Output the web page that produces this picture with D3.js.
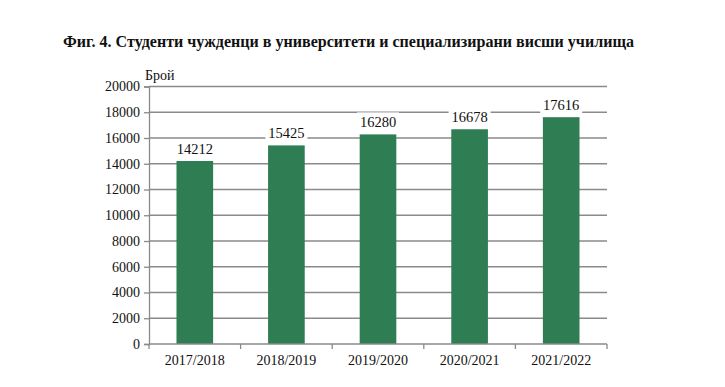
<!DOCTYPE html>
<html><head><meta charset="utf-8">
<script src="https://cdn.jsdelivr.net/npm/d3@7"></script>
<style>body{margin:0;background:#fff}svg{display:block}</style>
</head><body>
<script>
const categories = ["2017/2018","2018/2019","2019/2020","2020/2021","2021/2022"];
const values = [14212, 15425, 16280, 16678, 17616];
const yTicks = [0,2000,4000,6000,8000,10000,12000,14000,16000,18000,20000];
const title = "Фиг. 4. Студенти чужденци в университети и специализирани висши училища";
const yLabel = "Брой";

const W = 725, H = 387;
const m = {left:149, right:118, top:86.5, bottom:43};
const svg = d3.select("body").append("svg").attr("width",W).attr("height",H);
const font = "Liberation Serif";

const x = d3.scaleBand().domain(categories).range([m.left, W-m.right]).paddingInner(0.6).paddingOuter(0.3);
const y = d3.scaleLinear().domain([0,20000]).range([H-m.bottom, m.top]);

// title
svg.append("text").attr("x",63).attr("y",47).style("font-family",font).style("font-weight","bold")
  .style("font-size","17.5px").attr("textLength",571).attr("lengthAdjust","spacingAndGlyphs")
  .attr("fill","#111").text(title);

// gridlines
svg.append("g").selectAll("line").data(yTicks.filter(d=>d>0)).join("line")
  .attr("x1",m.left).attr("x2",W-m.right).attr("y1",d=>y(d)).attr("y2",d=>y(d))
  .attr("stroke","#8a8a8a").attr("stroke-width",1.3);

// bars
svg.append("g").selectAll("rect").data(values).join("rect")
  .attr("x",(d,i)=>x(categories[i])).attr("width",x.bandwidth())
  .attr("y",d=>y(d)).attr("height",d=>y(0)-y(d)).attr("fill","#2e7d53");

// y axis
const ya = svg.append("g").attr("transform",`translate(${m.left},0)`)
  .call(d3.axisLeft(y).tickValues(yTicks).tickSize(5).tickPadding(4).tickFormat(d3.format("d")));
ya.select(".domain").attr("stroke","#8a8a8a").attr("stroke-width",1.3);
ya.selectAll(".tick line").attr("stroke","#8a8a8a").attr("stroke-width",1.3);
ya.selectAll("text").style("font-family",font).style("font-size","14px").attr("fill","#111");

// x axis
const xa = svg.append("g").attr("transform",`translate(0,${y(0)})`);
xa.append("line").attr("x1",m.left).attr("x2",W-m.right).attr("stroke","#8a8a8a").attr("stroke-width",1.3);
const edges = categories.map(c=>x(c)-x.step()*0.3).concat([W-m.right]);
xa.selectAll("line.t").data(edges).join("line").attr("class","t")
  .attr("x1",d=>d).attr("x2",d=>d).attr("y1",0).attr("y2",5).attr("stroke","#8a8a8a").attr("stroke-width",1.3);
xa.selectAll("text").data(categories).join("text")
  .attr("x",d=>x(d)+x.bandwidth()/2).attr("y",21).attr("text-anchor","middle")
  .style("font-family",font).style("font-size","14px").attr("fill","#111").text(d=>d);

// value labels with white boxes
const lg = svg.append("g");
values.forEach((v,i)=>{
  const cx = x(categories[i])+x.bandwidth()/2;
  const by = y(v)-7;
  lg.append("rect").attr("x",cx-21).attr("y",by-15).attr("width",42).attr("height",19).attr("fill","#fff");
  lg.append("text").attr("x",cx).attr("y",by).attr("text-anchor","middle")
    .style("font-family",font).style("font-size","14.5px").attr("fill","#111").text(v);
});

// y label
svg.append("text").attr("x",145).attr("y",80).style("font-family",font).style("font-size","14px")
  .attr("fill","#111").text(yLabel);
</script>
</body></html>
